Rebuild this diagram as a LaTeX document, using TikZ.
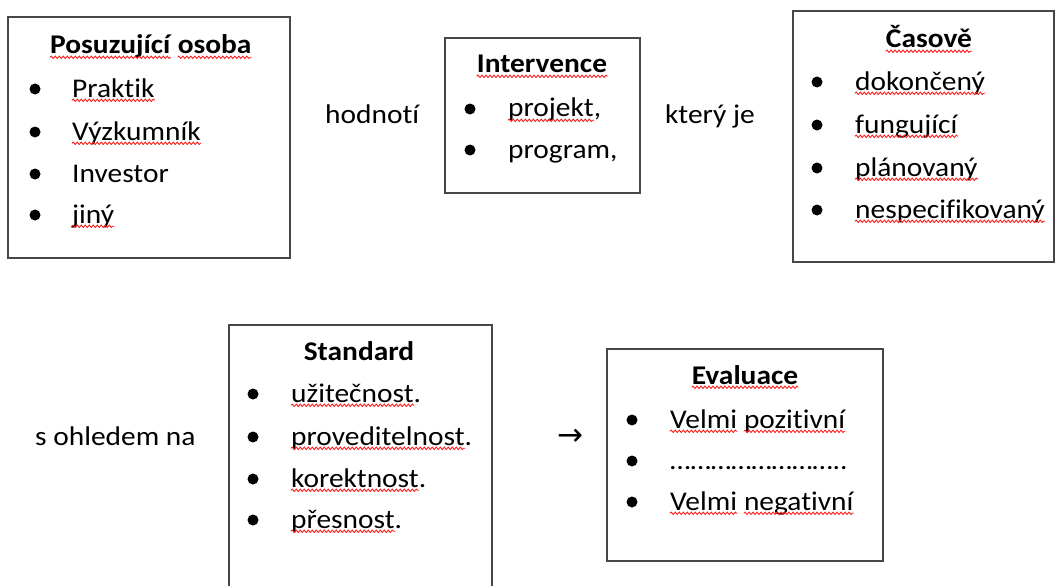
\documentclass[tikz,border=0pt]{standalone}
\usepackage{fontspec}
\setmainfont{Carlito}[RawFeature={-liga}, FakeStretch=1.09]
\newfontfamily\arrowfont{DejaVu Sans}
\usetikzlibrary{decorations.pathmorphing}
\newcommand\sqg[2][0pt]{\draw[wv] ([yshift=-3.3pt]#2.base west) -- ([yshift=-3.3pt,xshift=-#1]#2.base east);}
\begin{document}
\begin{tikzpicture}[x=1pt,y=-1pt,
  box/.style={draw=black!72, line width=1.1pt, rectangle, inner sep=0pt},
  tx/.style={inner sep=0pt, anchor=base west, font=\fontsize{27}{32}\selectfont},
  tb/.style={inner sep=0pt, anchor=base west, font=\fontsize{27}{32}\selectfont\bfseries},
  tc/.style={inner sep=0pt, anchor=base, font=\fontsize{27}{32}\selectfont\bfseries},
  bul/.style={circle, fill=black, inner sep=0pt, minimum size=11pt},
  wv/.style={draw=red!90, line width=0.85pt, decorate, decoration={snake, amplitude=1.2pt, segment length=4pt}}
]
\useasboundingbox (0,0) rectangle (1058,586);
\clip (0,0) rectangle (1058,586);

% Box 1
\node[box, minimum width=282pt, minimum height=241pt] (b1) at (149,137.5) {};
\node[tb] (t1a) at (50,54) {Posuzující};
\node[tb, xshift=7pt] (t1b) at (t1a.base east) {osoba};
\node[bul] (d11) at (35,89) {};  \node[tx] (i11) at (72,97) {Praktik};
\node[bul] (d12) at (35,132) {}; \node[tx] (i12) at (72,140) {Výzkumník};
\node[bul] (d13) at (35,174) {}; \node[tx] (i13) at (72,182) {Investor};
\node[bul] (d14) at (35,215) {}; \node[tx] (i14) at (72,223) {jiný};
\sqg{t1a}\sqg{t1b}\sqg{i11}\sqg{i12}\sqg{i14}

% connector text
\node[tx] (h) at (325,124) {hodnotí};

% Box 2
\node[box, minimum width=195pt, minimum height=155pt] (b2) at (542.5,115.5) {};
\node[tc] (t2) at (542,73) {Intervence};
\node[bul] (d21) at (470,109) {}; \node[tx] (i21) at (508,117) {projekt,};
\node[bul] (d22) at (470,150) {}; \node[tx] (i22) at (508,158) {program,};
\sqg{t2}\sqg[7pt]{i21}

\node[tx] (k) at (665,124) {který je};

% Box 3
\node[box, minimum width=261pt, minimum height=251pt] (b3) at (923.5,136.5) {};
\node[tc] (t3) at (929,48) {Časově};
\node[bul] (d31) at (817,82) {};  \node[tx] (i31) at (855,90) {dokončený};
\node[bul] (d32) at (817,125) {}; \node[tx] (i32) at (855,133) {fungující};
\node[bul] (d33) at (817,168) {}; \node[tx] (i33) at (855,176) {plánovaný};
\node[bul] (d34) at (817,210) {}; \node[tx] (i34) at (855,218) {nespecifikovaný};
\sqg{t3}\sqg{i31}\sqg{i32}\sqg{i33}\sqg{i34}

% second row
\node[tx] (s) at (35,445) {s ohledem na};

% Box 4
\node[box, minimum width=263pt, minimum height=285pt] (b4) at (360.5,467.5) {};
\node[tc] (t4) at (359,360) {Standard};
\node[bul] (d41) at (253,394) {}; \node[tx] (i41) at (291,402) {užitečnost.};
\node[bul] (d42) at (253,437) {}; \node[tx] (i42) at (291,445) {proveditelnost.};
\node[bul] (d43) at (253,479) {}; \node[tx] (i43) at (291,487) {korektnost.};
\node[bul] (d44) at (253,520) {}; \node[tx] (i44) at (291,528) {přesnost.};
\sqg[7pt]{i41}\sqg[7pt]{i42}\sqg[7pt]{i43}\sqg[7pt]{i44}

\node[inner sep=0pt, font=\fontsize{31}{34}\arrowfont] (ar) at (570,437) {→};

% Box 5
\node[box, minimum width=276pt, minimum height=212pt] (b5) at (745,455) {};
\node[tc] (t5) at (745,384) {Evaluace};
\node[bul] (d51) at (632,420) {}; \node[tx] (i51a) at (670,428) {Velmi};
\node[tx, xshift=6.5pt] (i51b) at (i51a.base east) {pozitivní};
\node[bul] (d52) at (632,461) {}; \node[tx] (i52) at (670,469) {……………………..};
\node[bul] (d53) at (632,502) {}; \node[tx] (i53a) at (670,510) {Velmi};
\node[tx, xshift=6.5pt] (i53b) at (i53a.base east) {negativní};
\sqg{t5}\sqg{i51a}\sqg{i51b}\sqg{i53a}\sqg{i53b}
\end{tikzpicture}
\end{document}
